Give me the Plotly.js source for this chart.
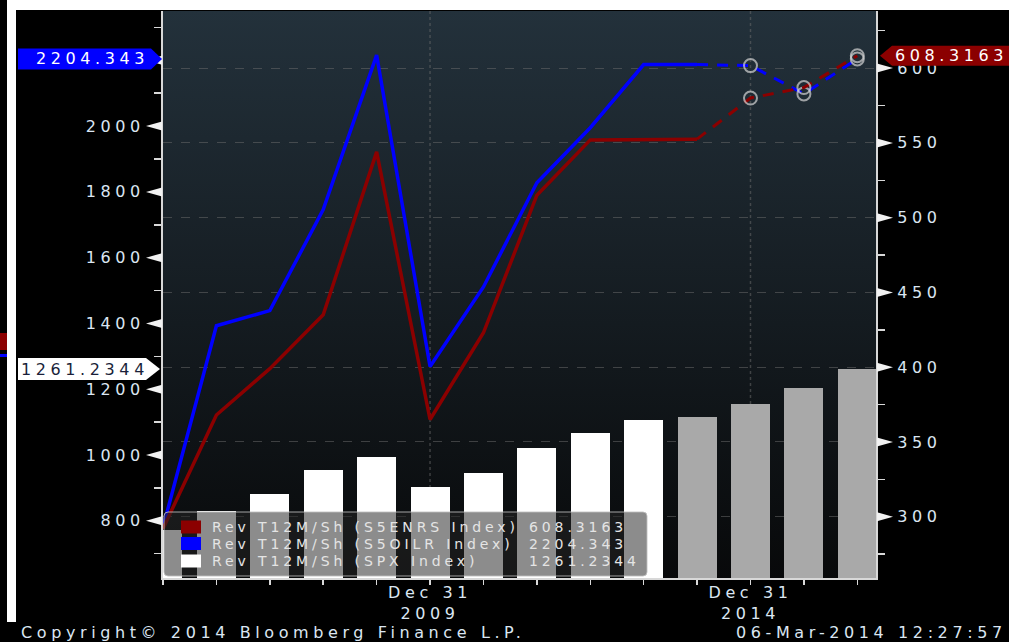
<!DOCTYPE html>
<html><head><meta charset="utf-8">
<script src="https://cdn.plot.ly/plotly-3.0.1.min.js"></script>
<style>
html,body{margin:0;padding:0;background:#000;width:1009px;height:642px;overflow:hidden;}
#bg{position:absolute;left:163px;top:11px;width:713px;height:567px;background:linear-gradient(#23313b,#08090a);}
#chart{position:absolute;left:0;top:0;width:1009px;height:642px;}
.blk{position:absolute;}
svg text{letter-spacing:3.4px;}
svg text[style*="font-size: 14px"]{letter-spacing:3.9px;}
svg text[style*="font-size: 16px"]{letter-spacing:4.6px;}
</style></head><body>
<div class="blk" style="left:7px;top:0;width:1002px;height:10px;background:#fff"></div>
<div class="blk" style="left:7px;top:0;width:9px;height:622px;background:#fff"></div>
<div class="blk" style="left:0;top:333px;width:7px;height:17px;background:#8b0000"></div>
<div class="blk" style="left:0;top:354px;width:7px;height:3px;background:#0000ff"></div>
<div id="bg"></div>
<div id="chart"></div>
<script>
// ---- data ----
const periods = ['Dec 2004','Dec 2005','Dec 2006','Dec 2007','Dec 2008','Dec 2009','Dec 2010','Dec 2011','Dec 2012','Dec 2013','Mar 2014','Dec 2014','Dec 2015','Dec 2016'];
const labeledPeriods = ['Dec 2009','Dec 2014'];
const labeledText = ['Dec 31<br>2009','Dec 31<br>2014'];
const spxRev   = [772, 830, 882, 955, 994, 904, 946, 1022, 1067, 1107, 1116, 1156, 1204, 1261.2344];
const oilrRev  = [780, 1393, 1439, 1746, 2216, 1269, 1511, 1828, 1995, 2187, 2187, 2184, 2098, 2204.343];
const enrsRev  = [292, 368, 399, 435, 544, 365, 423, 515, 552, 552.5, 552.5, 580, 587, 608.3163];
const seriesNames = ['Rev T12M/Sh (S5ENRS Index)','Rev T12M/Sh (S5OILR Index)','Rev T12M/Sh (SPX Index)'];
const estStart = 10;      // first estimate period index (bars grey, lines dashed)
const markStart = 11;     // first period with circle markers
const leftTicks = [800,1000,1200,1400,1600,1800,2000,2200];
const leftTickText = ['800','1000','1200','1400','1600','1800','2000',''];
const rightTicks = [300,350,400,450,500,550,600];
const copyright = 'Copyright\u00a9 2014 Bloomberg Finance L.P.';
const stamp = '06-Mar-2014 12:27:57';

// ---- geometry helpers (plot area in px) ----
const PL=163, PR=876, PT=11, PB=578;
const fx = px => (px-PL)/(PR-PL);
const fy = py => (PB-py)/(PB-PT);
const FONT = 'DejaVu Sans';
const TXT = '#dbe6f2';
const RED = '#8b0000', BLUE = '#0000ff';

const last = a => a[a.length-1];
const tickText = periods.map(p => { const i = labeledPeriods.indexOf(p); return i>=0 ? labeledText[i] : ''; });
const markSizes = periods.slice(estStart).map((p,i)=> i+estStart>=markStart?13:0);

const traces = [
  {type:'bar', x:periods, y:spxRev, yaxis:'y', width:0.73,
   marker:{color:spxRev.map((v,i)=> i<estStart ? '#ffffff' : '#a9a9a9'), line:{width:0}}},
  {type:'scatter', mode:'lines', x:periods.slice(0,estStart+1), y:oilrRev.slice(0,estStart+1), yaxis:'y',
   line:{color:BLUE, width:3.5}},
  {type:'scatter', mode:'lines+markers', x:periods.slice(estStart), y:oilrRev.slice(estStart), yaxis:'y',
   line:{color:BLUE, width:3, dash:'11px,9px'},
   marker:{symbol:'circle-open', size:markSizes, color:'#d4d4d4', line:{width:2, color:'#d4d4d4'}}},
  {type:'scatter', mode:'lines', x:periods.slice(0,estStart+1), y:enrsRev.slice(0,estStart+1), yaxis:'y2',
   line:{color:RED, width:3.5}},
  {type:'scatter', mode:'lines+markers', x:periods.slice(estStart), y:enrsRev.slice(estStart), yaxis:'y2',
   line:{color:RED, width:3, dash:'11px,9px'},
   marker:{symbol:'circle-open', size:markSizes, color:'#d4d4d4', line:{width:2, color:'#d4d4d4'}}}
];

const shapes = [];
labeledPeriods.forEach(p => shapes.push({type:'line', xref:'x', yref:'paper', x0:periods.indexOf(p), x1:periods.indexOf(p), y0:0, y1:1,
  line:{color:'rgba(110,110,110,0.5)', width:1.5, dash:'dot'}, layer:'below'}));
leftTicks.forEach(v => shapes.push({type:'path', xref:'paper', xsizemode:'pixel', xanchor:0, yref:'y', ysizemode:'pixel', yanchor:v,
  path:'M -1,-4.5 L -1,4.5 L -17,0 Z', fillcolor:'#f2f2f2', line:{width:0}, layer:'above'}));
rightTicks.forEach(v => shapes.push({type:'path', xref:'paper', xsizemode:'pixel', xanchor:1, yref:'y2', ysizemode:'pixel', yanchor:v,
  path:'M 1,-4.5 L 1,4.5 L 17,0 Z', fillcolor:'#f2f2f2', line:{width:0}, layer:'above'}));
(function(){
  const x0=fx(164), x1=fx(647), y0=fy(576), y1=fy(512), rx=4/(PR-PL), ry=4/(PB-PT);
  const p = `M ${x0+rx},${y1} L ${x1-rx},${y1} Q ${x1},${y1} ${x1},${y1-ry} L ${x1},${y0+ry} Q ${x1},${y0} ${x1-rx},${y0} L ${x0+rx},${y0} Q ${x0},${y0} ${x0},${y0+ry} L ${x0},${y1-ry} Q ${x0},${y1} ${x0+rx},${y1} Z`;
  shapes.push({type:'path', xref:'paper', yref:'paper', path:p, fillcolor:'rgba(38,38,38,0.53)', line:{color:'rgba(190,190,190,0.85)', width:1}, layer:'above'});
})();
const legColors = [RED, BLUE, '#ffffff'];
const legVals = [last(enrsRev), last(oilrRev), last(spxRev)];
const rowY = [527, 543.5, 561];
legColors.forEach((c,i)=> shapes.push({type:'rect', xref:'paper', yref:'paper', x0:fx(181), x1:fx(201), y0:fy(rowY[i]+6.5), y1:fy(rowY[i]-6.5),
  fillcolor:c, line:{width:0}, layer:'above'}));
shapes.push({type:'path', xref:'paper', xsizemode:'pixel', xanchor:0, yref:'y', ysizemode:'pixel', yanchor:last(oilrRev),
  path:'M -145,10.5 L -12,10.5 L -1,0 L -12,-10.5 L -145,-10.5 Z', fillcolor:BLUE, line:{width:0}, layer:'above'});
shapes.push({type:'path', xref:'paper', xsizemode:'pixel', xanchor:0, yref:'y', ysizemode:'pixel', yanchor:last(spxRev),
  path:'M -145,11 L -17,11 L -3,0 L -17,-11 L -145,-11 Z', fillcolor:'#ffffff', line:{width:0}, layer:'above'});
shapes.push({type:'path', xref:'paper', xsizemode:'pixel', xanchor:1, yref:'y2', ysizemode:'pixel', yanchor:last(enrsRev),
  path:'M 4,0 L 16,10 L 133,10 L 133,-10 L 16,-10 Z', fillcolor:RED, line:{width:0}, layer:'above'});

const annotations = [];
seriesNames.forEach((n,i)=>{
  annotations.push({xref:'paper', yref:'paper', x:fx(210), y:fy(rowY[i]), xanchor:'left', yanchor:'middle', showarrow:false,
    text:n, font:{family:FONT, size:14, color:'#e4e4e4'}});
  annotations.push({xref:'paper', yref:'paper', x:fx(527), y:fy(rowY[i]), xanchor:'left', yanchor:'middle', showarrow:false,
    text:String(legVals[i]), font:{family:FONT, size:14, color:'#e4e4e4'}});
});
annotations.push({xref:'paper', yref:'y', x:0, y:last(oilrRev), xanchor:'right', yanchor:'middle', xshift:-12, showarrow:false,
  text:String(last(oilrRev)), font:{family:FONT, size:16, color:'#ffffff'}});
annotations.push({xref:'paper', yref:'y', x:0, y:last(spxRev), xanchor:'right', yanchor:'middle', xshift:-12, showarrow:false,
  text:String(last(spxRev)), font:{family:FONT, size:16, color:'#1a1f3a'}});
annotations.push({xref:'paper', yref:'y2', x:1, y:last(enrsRev), xanchor:'left', yanchor:'middle', xshift:17, showarrow:false,
  text:String(last(enrsRev)), font:{family:FONT, size:16, color:'#ffffff'}});
annotations.push({xref:'paper', yref:'paper', x:fx(19), y:fy(632), xanchor:'left', yanchor:'middle', showarrow:false,
  text:copyright, font:{family:FONT, size:16, color:TXT}});
annotations.push({xref:'paper', yref:'paper', x:fx(1009), y:fy(632), xanchor:'right', yanchor:'middle', showarrow:false,
  text:stamp, font:{family:FONT, size:16, color:TXT}});

const axFont = {family:FONT, size:16, color:TXT};
const layout = {
  width:1009, height:642, margin:{l:PL, r:1009-PR, t:PT, b:642-PB, pad:0},
  paper_bgcolor:'rgba(0,0,0,0)', plot_bgcolor:'rgba(0,0,0,0)',
  showlegend:false, bargap:0,
  xaxis:{type:'category', range:[0, 13.35], tickmode:'array', tickvals:periods, ticktext:tickText,
    ticks:'outside', ticklen:5, tickwidth:1.5, tickcolor:'#d8d8d8', showline:true, linecolor:'#d8d8d8', linewidth:2,
    showgrid:false, zeroline:false, tickfont:{family:FONT, size:16, color:TXT}, tickangle:0, ticklabelstandoff:-6},
  yaxis:{range:[626, 2350], tickmode:'array', tickvals:leftTicks, ticktext:leftTickText, ticks:'', showline:true, linecolor:'#d8d8d8', linewidth:2,
    showgrid:false, zeroline:false, tickfont:axFont, ticklabelstandoff:13,
    minor:{dtick:100, tick0:0, ticks:'outside', ticklen:7, tickcolor:'#d8d8d8', tickwidth:1.5, showgrid:false}},
  yaxis2:{overlaying:'y', side:'right', range:[259, 638.2], tickmode:'array', tickvals:rightTicks, ticks:'',
    showline:true, linecolor:'#d8d8d8', linewidth:2, showgrid:true, gridcolor:'rgba(110,110,110,0.5)', griddash:'dash', gridwidth:1,
    zeroline:false, tickfont:axFont, ticklabelstandoff:16,
    minor:{dtick:25, tick0:0, ticks:'outside', ticklen:7, tickcolor:'#d8d8d8', tickwidth:1.5, showgrid:false}},
  shapes:shapes, annotations:annotations
};
Plotly.newPlot('chart', traces, layout, {staticPlot:true, displayModeBar:false});
</script>
</body></html>
